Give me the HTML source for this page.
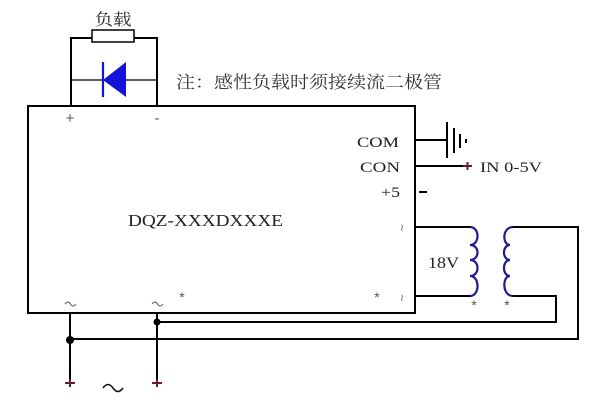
<!DOCTYPE html>
<html><head><meta charset="utf-8"><style>
html,body{margin:0;padding:0;background:#fff;width:600px;height:400px;overflow:hidden}
svg{display:block}
</style></head><body>
<svg width="600" height="400" viewBox="0 0 600 400" xmlns="http://www.w3.org/2000/svg">
<rect width="600" height="400" fill="#fff"/>
<!-- load loop -->
<text x="113" y="25" font-family="'Liberation Serif','Noto Serif CJK SC',serif" font-size="16" fill="#222" text-anchor="middle" textLength="37" lengthAdjust="spacingAndGlyphs">负载</text>
<path d="M71,106 V38 H92 M134,38 H157 V106" fill="none" stroke="#000" stroke-width="2"/>
<rect x="92" y="30" width="42" height="12" fill="#fff" stroke="#000" stroke-width="1.5"/>
<line x1="71" y1="80" x2="157" y2="80" stroke="#000" stroke-width="1.2"/>
<line x1="103" y1="62" x2="103" y2="97" stroke="#1414d8" stroke-width="2.2"/>
<polygon points="103,80 126,62 126,97" fill="#1414d8"/>
<text x="176" y="88" font-family="'Liberation Serif','Noto Serif CJK SC',serif" font-size="17" fill="#333" textLength="266" lengthAdjust="spacingAndGlyphs">注：感性负载时须接续流二极管</text>
<!-- box -->
<rect x="28" y="106" width="387" height="207" fill="none" stroke="#000" stroke-width="2"/>
<text x="70" y="123" font-family="'Liberation Sans',sans-serif" font-size="15" fill="#555" text-anchor="middle">+</text>
<text x="157" y="123" font-family="'Liberation Sans',sans-serif" font-size="15" fill="#555" text-anchor="middle">-</text>
<text x="128" y="226" font-family="'Liberation Serif',serif" font-size="17" fill="#222" textLength="155" lengthAdjust="spacingAndGlyphs">DQZ-XXXDXXXE</text>
<text x="357" y="147" font-family="'Liberation Serif',serif" font-size="15" fill="#222" textLength="42" lengthAdjust="spacingAndGlyphs">COM</text>
<text x="360" y="172" font-family="'Liberation Serif',serif" font-size="15" fill="#222" textLength="40" lengthAdjust="spacingAndGlyphs">CON</text>
<text x="381" y="197" font-family="'Liberation Serif',serif" font-size="15" fill="#222" textLength="19" lengthAdjust="spacingAndGlyphs">+5</text>
<!-- COM ground -->
<line x1="415" y1="140" x2="447" y2="140" stroke="#000" stroke-width="2"/>
<line x1="447" y1="122" x2="447" y2="158" stroke="#000" stroke-width="2"/>
<line x1="454" y1="128" x2="454" y2="153" stroke="#000" stroke-width="2"/>
<line x1="460" y1="134" x2="460" y2="148" stroke="#000" stroke-width="2"/>
<line x1="466" y1="139" x2="466" y2="143" stroke="#000" stroke-width="2"/>
<!-- CON -->
<line x1="415" y1="166" x2="467" y2="166" stroke="#000" stroke-width="2"/>
<path d="M463,166 H472 M467.5,162 V170" stroke="#6a1a2a" stroke-width="2"/>
<text x="480" y="172" font-family="'Liberation Serif',serif" font-size="15" fill="#222" textLength="62" lengthAdjust="spacingAndGlyphs">IN 0-5V</text>
<line x1="419" y1="192" x2="427" y2="192" stroke="#000" stroke-width="2"/>
<!-- transformer -->
<text x="402" y="231" font-family="'Liberation Serif','DejaVu Sans',serif" font-size="10" fill="#555" text-anchor="middle">≀</text>
<text x="402" y="301" font-family="'Liberation Serif','DejaVu Sans',serif" font-size="10" fill="#555" text-anchor="middle">≀</text>
<path d="M415,227 H470 M415,296 H470" stroke="#000" stroke-width="2" fill="none"/>
<path d="M470,227 C480,227 480,245 470,245 C480,245 480,260 470,260 C480,260 480,276 470,276 C480,276 480,296 470,296" fill="none" stroke="#1c1c8a" stroke-width="2.2"/>
<path d="M513,227 C502,227 502,245 510,245 C502,245 502,260 510,260 C502,260 502,276 510,276 C502,276 502,296 513,296" fill="none" stroke="#1c1c8a" stroke-width="2.2"/>
<text x="428" y="268" font-family="'Liberation Serif',serif" font-size="16" fill="#222" textLength="31" lengthAdjust="spacingAndGlyphs">18V</text>
<text x="474" y="310" font-family="'Liberation Sans',sans-serif" font-size="14" fill="#555" text-anchor="middle">*</text>
<text x="507" y="310" font-family="'Liberation Sans',sans-serif" font-size="14" fill="#555" text-anchor="middle">*</text>
<text x="182" y="302" font-family="'Liberation Sans',sans-serif" font-size="14" fill="#555" text-anchor="middle">*</text>
<text x="377" y="302" font-family="'Liberation Sans',sans-serif" font-size="14" fill="#555" text-anchor="middle">*</text>
<!-- secondary wiring -->
<path d="M513,227 H578 V339 H70" fill="none" stroke="#000" stroke-width="2"/>
<path d="M513,296 H556 V322 H157" fill="none" stroke="#000" stroke-width="2"/>
<!-- AC inputs -->
<line x1="70" y1="313" x2="70" y2="383" stroke="#000" stroke-width="2"/>
<line x1="157" y1="313" x2="157" y2="383" stroke="#000" stroke-width="2"/>
<circle cx="70" cy="340" r="4" fill="#000"/>
<circle cx="157" cy="322" r="3.5" fill="#000"/>
<path d="M65,383 H75 M70,379 V387 M152,383 H162 M157,379 V387" stroke="#6a1a2a" stroke-width="2"/>
<path d="M65,304 q3,-4 5.5,0 t5.5,0" fill="none" stroke="#555" stroke-width="1"/>
<path d="M152,304 q3,-4 5.5,0 t5.5,0" fill="none" stroke="#555" stroke-width="1"/>
<path d="M103,388 q5,-7 10,0 t10,0" fill="none" stroke="#111" stroke-width="1.6"/>
</svg>
</body></html>
